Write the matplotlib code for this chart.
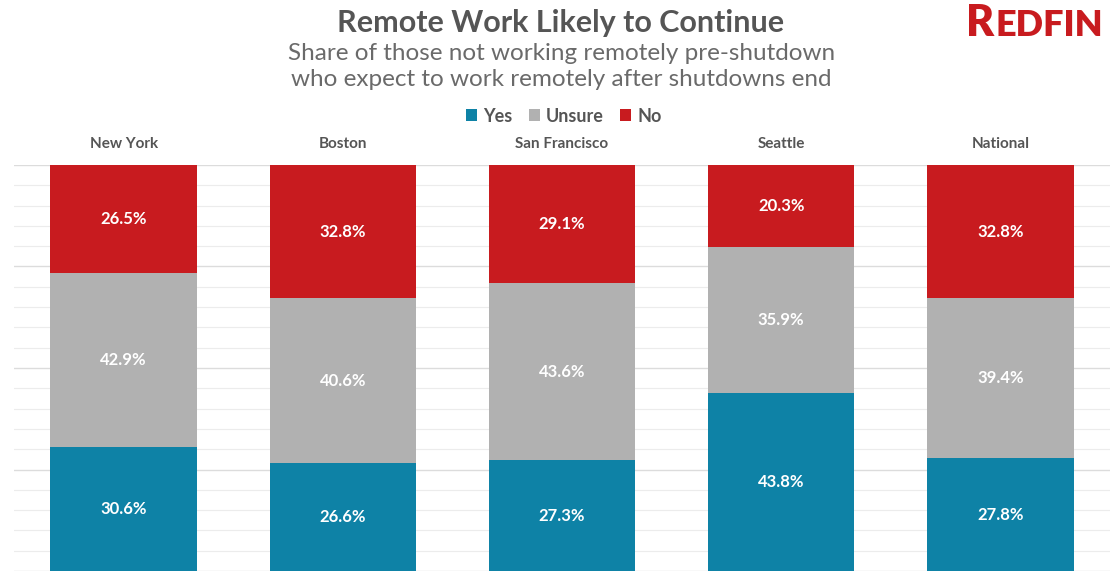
import matplotlib
matplotlib.use("Agg")
import matplotlib.pyplot as plt
from matplotlib.patches import Patch
from matplotlib.transforms import blended_transform_factory
import numpy as np

regions = ["New York", "Boston", "San Francisco", "Seattle", "National"]
yes_vals = [30.6, 26.6, 27.3, 43.8, 27.8]
unsure_vals = [42.9, 40.6, 43.6, 35.9, 39.4]
no_vals = [26.5, 32.8, 29.1, 20.3, 32.8]
series_names = ["Yes", "Unsure", "No"]

TEAL = "#0E82A6"
GRAY = "#B1B1B1"
RED = "#C81B1F"
TXT = "#555555"

plt.rcParams['font.family'] = ['Lato', 'DejaVu Sans']

W, H = 1110, 571
fig = plt.figure(figsize=(W / 100, H / 100), dpi=100)
fig.patch.set_facecolor("white")

ax = fig.add_axes([14 / W, 0, 1 - 14 / W, 406 / H])
ax.set_xlim(-0.5, 4.5)
ax.set_ylim(0, 100)

# gridlines
for y in np.arange(0, 101, 5):
    major = (y % 25 == 0)
    ax.axhline(y, color="#dcdcdc" if major else "#ececec", lw=1.0 if major else 0.8, zorder=0)

x = np.arange(len(regions))
series = [yes_vals, unsure_vals, no_vals]
colors = [TEAL, GRAY, RED]
bottom = np.zeros(len(regions))
for vals, col in zip(series, colors):
    vals = np.array(vals)
    ax.bar(x, vals, bottom=bottom, width=0.667, color=col, zorder=2)
    for xi, b, v in zip(x, bottom, vals):
        ax.text(xi, b + v / 2, f"{v:.1f}%", ha="center", va="center",
                color="white", fontsize=12, fontweight="bold", zorder=3)
    bottom += vals

for s in ax.spines.values():
    s.set_visible(False)
ax.set_xticks([])
ax.set_yticks([])

# column headers
tr = blended_transform_factory(ax.transData, fig.transFigure)
for xi, name in zip(x, regions):
    ax.text(xi, 1 - 144 / H, name, transform=tr, ha="center", va="center",
            fontsize=11, fontweight="bold", color=TXT)

# title & subtitle
fig.text(0.505, 1 - 23 / H, "Remote Work Likely to Continue", ha="center", va="center",
         fontsize=22, fontweight="bold", color=TXT)
fig.text(0.506, 1 - 54 / H, "Share of those not working remotely pre-shutdown",
         ha="center", va="center", fontsize=17.5, fontweight="normal", color="#6a6a6a")
fig.text(0.506, 1 - 80 / H, "who expect to work remotely after shutdowns end",
         ha="center", va="center", fontsize=17.5, fontweight="normal", color="#6a6a6a")

# logo
fig.text(966 / W, 1 - 23 / H, "R", ha="left", va="center", fontsize=31,
         fontweight="heavy", color=RED)
fig.text(996 / W, 1 - 25 / H, "EDFIN", ha="left", va="center", fontsize=26,
         fontweight="heavy", color=RED)

# legend
handles = [Patch(facecolor=c, edgecolor="none") for c in colors]
leg = fig.legend(handles, series_names, loc="center", bbox_to_anchor=(0.508, 1 - 116 / H),
                 ncol=3, frameon=False, handlelength=0.6, handleheight=0.6,
                 handletextpad=0.35, columnspacing=0.9, borderaxespad=0,
                 prop={"size": 13, "weight": "bold"})
for t in leg.get_texts():
    t.set_color(TXT)

fig.savefig("out.png", dpi=100, facecolor="white")
